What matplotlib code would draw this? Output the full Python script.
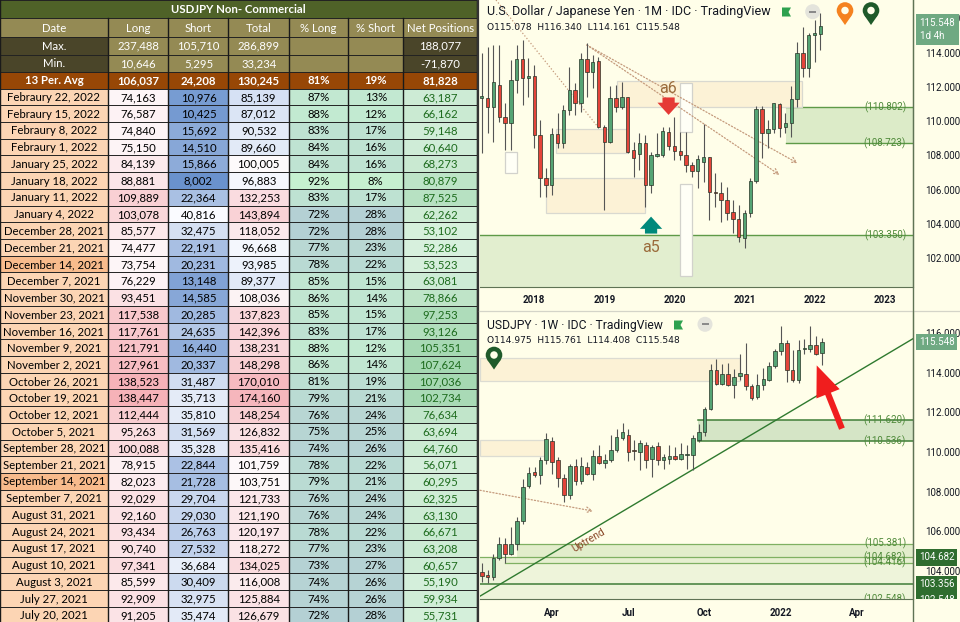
import matplotlib
matplotlib.use('Agg')
import matplotlib.pyplot as plt
from matplotlib.patches import Rectangle, Circle, Polygon
import matplotlib.transforms as mtransforms
import numpy as np
import pandas as pd

plt.rcParams['font.family'] = ['Roboto', 'DejaVu Sans']

# ------------------------------------------------------------------ TABLE DATA
table_title = "USDJPY Non- Commercial"
col_headers = ["Date", "Long", "Short", "Total", "% Long", "% Short", "Net Positions"]
max_label, min_label, avg_label = "Max.", "Min.", "13 Per. Avg"
max_vals = [237488, 105710, 286899, None, None, 188077]
min_vals = [10646, 5295, 33234, None, None, -71870]
avg_vals = [106037, 24208, 130245, 81, 19, 81828]

dates = ["Febraury 22, 2022", "Febraury 15, 2022", "Febraury 8, 2022", "Febraury 1, 2022",
         "January 25, 2022", "January 18, 2022", "January 11, 2022", "January 4, 2022",
         "December 28, 2021", "December 21, 2021", "December 14, 2021", "December 7, 2021",
         "November 30, 2021", "November 23, 2021", "November 16, 2021", "November 9, 2021",
         "November 2, 2021", "October 26, 2021", "October 19, 2021", "October 12, 2021",
         "October 5, 2021", "September 28, 2021", "September 21, 2021", "September 14, 2021",
         "September 7, 2021", "August 31, 2021", "August 24, 2021", "August 17, 2021",
         "August 10, 2021", "August 3, 2021", "July 27, 2021", "July 20, 2021"]
longs = [74163, 76587, 74840, 75150, 84139, 88881, 109889, 103078, 85577, 74477, 73754, 76229,
         93451, 117538, 117761, 121791, 127961, 138523, 138447, 112444, 95263, 100088, 78915, 82023,
         92029, 92160, 93434, 90740, 97341, 85599, 92909, 91205]
shorts = [10976, 10425, 15692, 14510, 15866, 8002, 22364, 40816, 32475, 22191, 20231, 13148,
          14585, 20285, 24635, 16440, 20337, 31487, 35713, 35810, 31569, 35328, 22844, 21728,
          29704, 29030, 26763, 27532, 36684, 30409, 32975, 35474]
totals = [85139, 87012, 90532, 89660, 100005, 96883, 132253, 143894, 118052, 96668, 93985, 89377,
          108036, 137823, 142396, 138231, 148298, 170010, 174160, 148254, 126832, 135416, 101759, 103751,
          121733, 121190, 120197, 118272, 134025, 116008, 125884, 126679]
pct_long = [87, 88, 83, 84, 84, 92, 83, 72, 72, 77, 78, 85, 86, 85, 83, 88, 86, 81, 79, 76, 75, 74,
            78, 79, 76, 76, 78, 77, 73, 74, 74, 72]
pct_short = [13, 12, 17, 16, 16, 8, 17, 28, 28, 23, 22, 15, 14, 15, 17, 12, 14, 19, 21, 24, 25, 26,
             22, 21, 24, 24, 22, 23, 27, 26, 26, 28]
net_pos = [63187, 66162, 59148, 60640, 68273, 80879, 87525, 62262, 53102, 52286, 53523, 63081,
           78866, 97253, 93126, 105351, 107624, 107036, 102734, 76634, 63694, 64760, 56071, 60295,
           62325, 63130, 66671, 63208, 60657, 55190, 59934, 55731]
highlight_dates = ["December 14, 2021", "September 14, 2021"]

# ------------------------------------------------------------------ MONTHLY CHART DATA (USD/JPY 1M)
m_start = "2017-04-01"
m_open = [111.35, 111.33, 110.84, 112.10, 110.26, 109.90, 112.40, 113.60, 112.50, 112.63,
          109.18, 106.65, 106.26, 109.24, 108.74, 110.65, 111.81, 111.03, 113.60, 112.88,
          113.53, 109.67, 108.80, 111.33, 110.80, 111.39, 108.31, 108.08, 108.74, 106.26,
          107.98, 108.02, 109.38, 108.54, 108.25, 108.02, 107.43, 107.10, 107.63, 107.88,
          105.87, 105.82, 105.40, 104.70, 104.26, 103.15, 104.61, 106.50, 110.68, 109.28,
          109.52, 111.00, 109.63, 109.90, 111.27, 113.96, 113.08, 115.03, 115.078]
m_high = [113.95, 114.35, 114.44, 114.44, 111.03, 113.57, 114.44, 114.73, 113.66, 113.27,
          110.06, 107.24, 109.57, 110.45, 110.94, 113.18, 112.20, 113.96, 114.54, 113.86,
          113.76, 109.77, 112.05, 112.10, 112.30, 111.42, 108.80, 109.28, 109.18, 108.21,
          109.28, 109.67, 109.67, 110.26, 109.38, 109.38, 107.63, 108.02, 109.83, 107.92,
          106.95, 106.46, 106.17, 105.39, 105.10, 104.80, 106.65, 110.88, 110.88, 110.06,
          111.07, 111.07, 110.45, 112.05, 114.64, 115.51, 115.16, 115.90, 116.340]
m_low = [108.11, 109.28, 108.80, 109.96, 108.31, 108.31, 111.62, 110.94, 111.42, 108.40,
         105.58, 105.58, 105.68, 108.41, 108.41, 110.35, 110.35, 110.55, 111.42, 111.91,
         109.57, 104.80, 108.70, 110.55, 110.70, 108.11, 106.75, 107.14, 105.00, 105.78,
         107.92, 107.90, 108.31, 107.72, 107.72, 107.04, 106.75, 106.07, 106.46, 104.22,
         105.00, 104.12, 104.22, 103.44, 102.95, 102.56, 104.41, 106.36, 107.82, 108.40,
         109.28, 109.09, 109.28, 109.09, 110.84, 112.59, 112.55, 113.47, 114.161]
m_close = [111.45, 110.84, 112.30, 110.26, 109.90, 112.40, 113.60, 112.50, 112.63, 109.18,
           106.65, 106.26, 109.24, 108.74, 110.65, 111.81, 111.03, 113.60, 112.88, 113.47,
           109.67, 108.80, 111.33, 110.80, 111.39, 108.21, 107.82, 108.74, 106.26, 108.02,
           108.06, 109.42, 108.54, 108.27, 108.02, 107.43, 107.10, 107.76, 107.88, 105.87,
           105.78, 105.39, 104.65, 104.26, 103.21, 104.61, 106.50, 110.68, 109.28, 109.52,
           111.03, 109.57, 109.90, 111.27, 113.96, 113.08, 115.03, 115.12, 115.548]
m_levels = [110.802, 108.723, 103.350]

# ------------------------------------------------------------------ WEEKLY CHART DATA (USDJPY 1W)
w_start = "2021-01-11"
w_open = [103.93, 103.79, 103.71, 104.63, 105.34, 104.88, 105.34, 106.51, 108.29, 108.99,
          108.83, 109.62, 110.54, 109.62, 108.70, 107.82, 109.28, 108.54, 109.25, 108.91,
          109.80, 109.47, 109.59, 110.12, 110.73, 110.84, 110.12, 110.00, 110.37, 109.67,
          110.29, 109.59, 109.63, 109.80, 109.67, 109.87, 109.87, 110.59, 111.01, 112.19,
          114.15, 113.45, 113.95, 113.36, 113.82, 113.95, 113.31, 112.78, 113.36, 113.61,
          114.32, 115.08, 115.51, 114.15, 113.65, 115.20, 115.21, 115.41, 114.975]
w_high = [104.38, 104.04, 104.88, 105.72, 105.64, 106.23, 106.70, 108.66, 109.25, 109.25,
          109.75, 110.96, 110.76, 109.75, 108.91, 109.42, 109.67, 109.75, 109.50, 110.09,
          110.34, 109.92, 110.84, 111.18, 111.45, 111.18, 110.59, 110.59, 110.51, 110.34,
          110.51, 109.92, 110.34, 110.26, 110.46, 110.34, 110.84, 111.43, 112.27, 114.46,
          114.71, 114.46, 114.49, 114.20, 114.96, 115.50, 113.41, 113.95, 114.25, 114.54,
          115.21, 116.34, 115.63, 115.13, 115.63, 115.71, 116.34, 115.83, 115.761]
w_low = [103.46, 103.37, 103.54, 104.55, 104.38, 104.80, 105.05, 106.39, 108.20, 108.75,
         108.41, 109.42, 108.91, 108.24, 107.49, 107.65, 108.33, 108.41, 108.85, 108.58,
         109.42, 109.17, 109.50, 110.00, 110.59, 109.55, 109.59, 109.08, 109.17, 108.75,
         109.33, 109.12, 109.42, 109.59, 109.59, 109.12, 109.08, 110.50, 110.79, 112.10,
         113.40, 113.36, 113.31, 112.74, 113.62, 113.11, 112.61, 112.70, 113.15, 113.58,
         114.25, 114.88, 113.53, 113.53, 113.48, 114.96, 115.04, 114.88, 114.408]
w_close = [103.76, 103.71, 104.67, 105.34, 104.88, 105.34, 106.51, 108.24, 108.96, 108.86,
           109.62, 110.64, 109.50, 108.70, 107.82, 109.28, 108.54, 109.30, 108.91, 109.79,
           109.45, 109.59, 110.12, 110.76, 111.01, 110.00, 110.04, 110.46, 109.59, 110.26,
           109.59, 109.75, 109.80, 109.67, 109.89, 109.88, 110.71, 111.01, 112.19, 114.15,
           113.45, 113.95, 113.36, 113.78, 113.99, 113.31, 112.74, 113.36, 113.70, 114.32,
           115.08, 115.50, 114.15, 113.65, 115.16, 115.22, 115.38, 114.96, 115.548]
w_zone = [110.536, 111.620]
w_levels_low = [105.381, 104.682, 104.416, 103.356, 102.548]

# ------------------------------------------------------------------ FIGURE
W, H = 960, 622
BG = '#fffee9'
fig = plt.figure(figsize=(W / 100, H / 100), dpi=100)
fig.patch.set_facecolor(BG)

# ================================================================== TABLE
tax = fig.add_axes([0, 0, 478 / W, 1])
tax.set_xlim(0, 478)
tax.set_ylim(H, 0)
tax.axis('off')

col_x = [0, 108, 168.5, 228.5, 289, 348, 403.5, 477]
hdr_y = [0, 18.3, 36.7, 54.5, 71.5, 88.5]
row_h = (623.5 - hdr_y[-1]) / len(dates)
TF = 'Lato'


def lerp(c0, c1, t):
    t = float(np.clip(t, 0, 1))
    return tuple((a + (b - a) * t) / 255 for a, b in zip(c0, c1))


def cell(ci, y0, y1, fc, text=None, color='black', weight='normal', size=8.2, span=1):
    x0, x1 = col_x[ci], col_x[ci + span]
    tax.add_patch(Rectangle((x0, y0), x1 - x0, y1 - y0, fc=fc, ec='none', zorder=1))
    if text is not None:
        tax.text((x0 + x1) / 2, (y0 + y1) / 2 + 0.6, text, ha='center', va='center',
                 color=color, fontweight=weight, fontsize=size, family=TF, zorder=3)


# title
cell(0, hdr_y[0], hdr_y[1], '#4f6228', table_title, 'white', 'bold', 8.2, span=7)
# header
for i, h in enumerate(col_headers):
    cell(i, hdr_y[1], hdr_y[2], '#948a54', h, 'white', 'normal', 8.2)
DARK = '#4a4529'
KHAKI = '#948a54'
for (lab, vals, r) in [(max_label, max_vals, 2), (min_label, min_vals, 3)]:
    cell(0, hdr_y[r], hdr_y[r + 1], DARK, lab, 'white')
    for j, v in enumerate(vals):
        fc = DARK if j == 5 else KHAKI
        cell(j + 1, hdr_y[r], hdr_y[r + 1], fc, None if v is None else f"{v:,}", 'white')
# average
cell(0, hdr_y[4], hdr_y[5], '#974706', avg_label, 'white', 'bold')
avg_txt = [f"{avg_vals[0]:,}", f"{avg_vals[1]:,}", f"{avg_vals[2]:,}",
           f"{avg_vals[3]}%", f"{avg_vals[4]}%", f"{avg_vals[5]:,}"]
for j, t in enumerate(avg_txt):
    cell(j + 1, hdr_y[4], hdr_y[5], '#974706', t, 'white', 'bold')

lmin, lmax = min(longs), max(longs)
smin, smax = min(shorts), max(shorts)
tmin, tmax, tmid = min(totals), max(totals), 100000
plmin, plmax = min(pct_long), max(pct_long)
psmin, psmax = min(pct_short), max(pct_short)
nmin, nmax = min(net_pos), max(net_pos)
GREENISH = (198, 240, 208)
TEALISH = (180, 208, 212)
for i, d in enumerate(dates):
    y0 = hdr_y[-1] + i * row_h
    y1 = y0 + row_h
    dfc = '#f8bb8c' if d in highlight_dates else '#fcd5b4'
    cell(0, y0, y1, dfc, d)
    cell(1, y0, y1, lerp((253, 245, 247), (246, 178, 184), (longs[i] - lmin) / (lmax - lmin)),
         f"{longs[i]:,}")
    cell(2, y0, y1, lerp((106, 146, 205), (250, 251, 255), (shorts[i] - smin) / (smax - smin)),
         f"{shorts[i]:,}")
    tv = totals[i]
    if tv < tmid:
        tfc = lerp((214, 225, 244), (253, 253, 255), (tv - tmin) / (tmid - tmin))
    else:
        tfc = lerp((253, 250, 251), (246, 182, 188), (tv - tmid) / (tmax - tmid))
    cell(3, y0, y1, tfc, f"{tv:,}")
    cell(4, y0, y1, lerp(TEALISH, GREENISH, (pct_long[i] - plmin) / (plmax - plmin)),
         f"{pct_long[i]}%")
    cell(5, y0, y1, lerp(GREENISH, TEALISH, (pct_short[i] - psmin) / (psmax - psmin)),
         f"{pct_short[i]}%")
    cell(6, y0, y1, lerp((215, 240, 221), (165, 216, 178), (net_pos[i] - nmin) / (nmax - nmin)),
         f"{net_pos[i]:,}", color='#1d6b1d')

# grid lines
all_y = list(hdr_y) + [hdr_y[-1] + k * row_h for k in range(1, len(dates) + 1)]
for y in all_y:
    tax.plot([0, col_x[-1]], [y, y], color='#222222', lw=0.7, zorder=4)
for k, x in enumerate(col_x):
    y_start = hdr_y[1] if 0 < k < len(col_x) - 1 else 0
    tax.plot([x, x], [y_start, 623.5], color='#1a1a1a', lw=1.0, zorder=4)

# ================================================================== CHART HELPERS
GREEN_C = '#55a474'
RED_C = '#e4443a'
EDGE_C = '#263326'
WICK_C = '#555555'
AX_C = '#5f7355'
LVL_C = '#5e9a48'
LBL_C = '#4f8a3a'


def draw_candles(ax, o, h, l, c, width):
    o, h, l, c = map(np.asarray, (o, h, l, c))
    x = np.arange(len(o))
    up = c >= o
    ax.vlines(x, l, h, color=WICK_C, lw=0.8, zorder=4)
    body = np.maximum(np.abs(c - o), 0.035)
    ax.bar(x, body, bottom=np.minimum(o, c), width=width,
           color=np.where(up, GREEN_C, RED_C), edgecolor=EDGE_C, linewidth=0.5, zorder=5)


def style_chart(ax, xlim, ylim, yticks):
    ax.set_facecolor(BG)
    ax.set_xlim(*xlim)
    ax.set_ylim(*ylim)
    ax.spines['top'].set_visible(False)
    ax.spines['left'].set_visible(False)
    ax.spines['right'].set_color(AX_C)
    ax.spines['bottom'].set_color(AX_C)
    ax.yaxis.tick_right()
    ax.set_yticks(yticks)
    ax.set_yticklabels([f"{v:.3f}" for v in yticks])
    ax.tick_params(axis='y', length=0, pad=9, labelsize=7, labelcolor='#131722')
    ax.tick_params(axis='x', length=0, pad=6, labelsize=7, labelcolor='#131722')


def level_label(ax, y, text):
    tr = mtransforms.blended_transform_factory(ax.transAxes, ax.transData)
    ax.text(0.985, y, text, transform=tr, ha='right', va='center', fontsize=7,
            color=LBL_C, zorder=7, clip_on=True)


def price_box(ax, y, text, fc, clip=False):
    tr = mtransforms.blended_transform_factory(ax.transAxes, ax.transData)
    t = ax.text(1.014, y, text, transform=tr, ha='left', va='center', fontsize=7,
                color='white', zorder=20,
                bbox=dict(boxstyle='square,pad=0.32', fc=fc, ec='none'))
    t.set_clip_on(False)
    if clip:
        cb = mtransforms.TransformedBbox(mtransforms.Bbox([[1.0, 0.0], [1.2, 1.0]]), ax.transAxes)
        t.set_clip_box(cb)
        t.set_clip_on(True)
    return t


# ================================================================== TOP CHART (monthly)
ax1 = fig.add_axes([480 / W, 1 - 287 / H, 432.7 / W, 287 / H])
m_xlim = (-0.29, 73.8)
m_ylim = (100.31, 117.07)
style_chart(ax1, m_xlim, m_ylim, np.arange(102, 117, 2))

m_dates_ext = pd.date_range(m_start, periods=80, freq='MS')
m_tick_pos = [i for i, d in enumerate(m_dates_ext) if d.month == 1 and i < m_xlim[1]]
ax1.set_xticks(m_tick_pos)
ax1.set_xticklabels([str(m_dates_ext[i].year) for i in m_tick_pos], fontweight='bold')

# zones
ax1.axhspan(m_ylim[0], m_levels[2], color='#e2eecf', zorder=1, lw=0)
ax1.axhline(m_levels[2], color=LVL_C, lw=1, zorder=2)
ax1.add_patch(Rectangle((52.1, m_levels[1]), m_xlim[1] - 52.1, m_levels[0] - m_levels[1],
                        fc='#dcebc8', ec='none', zorder=1))
for lv in m_levels[:2]:
    ax1.plot([52.1, m_xlim[1]], [lv, lv], color=LVL_C, lw=1, zorder=2)
for lv in m_levels:
    level_label(ax1, lv, f"({lv:.3f})")

# beige boxes (x in candle index, y in price)
beige_boxes = [(23.1, 54.9, 110.80, 112.34), (12.7, 24.8, 108.12, 109.54),
               (10.95, 27.9, 104.62, 106.66)]
for x0, x1, y0, y1 in beige_boxes:
    ax1.add_patch(Rectangle((x0, y0), x1 - x0, y1 - y0, fc='#fcf2d6', ec='#d9d9d0', lw=0.9, zorder=2))
white_boxes = [(4.0, 6.1, 106.96, 108.22), (34.0, 36.0, 109.38, 112.21), (34.0, 36.0, 100.97, 106.33)]
for x0, x1, y0, y1 in white_boxes:
    ax1.add_patch(Rectangle((x0, y0), x1 - x0, y1 - y0, fc='#fffff6', ec='#d2d2cc', lw=0.9, zorder=2))

# dotted trend lines
DOT_C = '#c49a7c'
ax1.plot([2.45, 19.9], [117.07, 109.66], ls=(0, (1, 1.6)), color=DOT_C, lw=0.9, zorder=3)
for end in [(54.1, 107.54), (51.0, 106.86)]:
    ax1.annotate('', xy=end, xytext=(18.0, 114.44),
                 arrowprops=dict(arrowstyle='->,head_length=0.4,head_width=0.2', ls=(0, (1, 1.6)),
                                 color=DOT_C, lw=0.9, shrinkA=0, shrinkB=0), zorder=3)

draw_candles(ax1, m_open, m_high, m_low, m_close, 0.58)

# a6 / a5 signals
ax1.annotate('', xy=(32.0, 110.36), xytext=(32.0, 111.38),
             arrowprops=dict(arrowstyle='simple,head_length=0.55,head_width=1.0,tail_width=0.55',
                             fc='#e53935', ec='none', shrinkA=0, shrinkB=0, mutation_scale=16), zorder=8)
ax1.text(31.9, 111.88, 'a6', ha='center', va='center', fontsize=11.5, color='#9a6a3a', zorder=8)
ax1.annotate('', xy=(29.0, 104.42), xytext=(29.0, 103.43),
             arrowprops=dict(arrowstyle='simple,head_length=0.55,head_width=1.0,tail_width=0.55',
                             fc='#00897b', ec='none', shrinkA=0, shrinkB=0, mutation_scale=16), zorder=8)
ax1.text(29.0, 102.64, 'a5', ha='center', va='center', fontsize=11.5, color='#9a6a3a', zorder=8)

t_top = ax1.annotate(f"{m_close[-1]:.3f}\n1d 4h", xy=(1.0, m_close[-1]), xycoords=('axes fraction', 'data'),
                     xytext=(5, 6), textcoords='offset points', ha='left', va='top', fontsize=7,
                     color='white', linespacing=1.45, zorder=20, annotation_clip=False,
                     bbox=dict(boxstyle='square,pad=0.4', fc='#6fa982', ec='none'))

# ================================================================== BOTTOM CHART (weekly)
ax2 = fig.add_axes([480 / W, 1 - 599.3 / H, 432.7 / W, (599.3 - 310.5) / H])
w_xlim = (-0.29, 73.46)
w_ylim = (102.57, 117.14)
style_chart(ax2, w_xlim, w_ylim, np.arange(104, 117, 2))

w_dates_ext = pd.date_range(w_start, periods=80, freq='W-MON')
w_tick_pos = [i for i, d in enumerate(w_dates_ext)
              if d.month in (1, 4, 7, 10) and d.day <= 7 and i < w_xlim[1]]
w_tick_lab = [str(w_dates_ext[i].year) if w_dates_ext[i].month == 1 else w_dates_ext[i].strftime('%b')
              for i in w_tick_pos]
ax2.set_xticks(w_tick_pos)
ax2.set_xticklabels(w_tick_lab, fontweight='bold')

# lower support stack
ax2.axhspan(w_ylim[0], w_levels_low[1], color='#eef4da', zorder=1, lw=0)
ax2.add_patch(Rectangle((6.0, w_levels_low[1]), w_xlim[1] - 6.0, w_levels_low[0] - w_levels_low[1],
                        fc='#e2edcb', ec='none', zorder=1))
ax2.add_patch(Rectangle((4.0, w_levels_low[2]), w_xlim[1] - 4.0, w_levels_low[1] - w_levels_low[2],
                        fc='#e6efd0', ec='none', zorder=1))
lvl_starts = [6.0, w_xlim[0], 4.0, w_xlim[0], w_xlim[0]]
for lv, xs in zip(w_levels_low, lvl_starts):
    lw = 1.1 if lv in (103.356,) else 0.9
    col = '#3f7d37' if lv in (103.356, 102.548) else '#7fb062'
    ax2.plot([xs, w_xlim[1]], [lv, lv], color=col, lw=lw, zorder=2)
for lv in [105.381, 104.682, 104.416, 102.548]:
    level_label(ax2, lv, f"({lv:.3f})")

# supply zone (green)
ax2.add_patch(Rectangle((36.9, w_zone[0]), w_xlim[1] - 36.9, w_zone[1] - w_zone[0],
                        fc='#d5e5c6', ec='none', zorder=1))
for lv in w_zone:
    ax2.plot([36.9, w_xlim[1]], [lv, lv], color='#3f7d37', lw=1.1, zorder=2)
    level_label(ax2, lv, f"({lv:.3f})")

# beige zones
for x0, x1, y0, y1 in [(w_xlim[0], 44.0, 113.56, 114.74), (w_xlim[0], 10.8, 109.79, 110.63)]:
    ax2.add_patch(Rectangle((x0, y0), x1 - x0, y1 - y0, fc='#fcf2d6', ec='#dcdcd2', lw=0.9, zorder=2))

# dotted arrow
ax2.annotate('', xy=(19.0, 107.02), xytext=(w_xlim[0], 108.07),
             arrowprops=dict(arrowstyle='->,head_length=0.4,head_width=0.2', ls=(0, (1, 1.6)),
                             color=DOT_C, lw=0.9, shrinkA=0, shrinkB=0), zorder=3)

# uptrend line
up_p0, up_p1 = (0, 102.78), (60, 113.34)
ax2.axline(up_p0, up_p1, color='#2f7a2f', lw=1.0, zorder=3)
slope = (up_p1[1] - up_p0[1]) / (up_p1[0] - up_p0[0])
ax2.text(18.2, 105.55, 'Uptrend', rotation=np.degrees(np.arctan(slope)), transform_rotates_text=True,
         rotation_mode='anchor', ha='center', va='center', fontsize=7.5, color='#8b4a2b', zorder=6)

draw_candles(ax2, w_open, w_high, w_low, w_close, 0.62)

# red arrow
ax2.annotate('', xy=(57.1, 114.37), xytext=(61.4, 111.18),
             arrowprops=dict(arrowstyle='simple,head_length=1.1,head_width=0.9,tail_width=0.22',
                             fc='#f01e1e', ec='none', shrinkA=0, shrinkB=0, mutation_scale=20), zorder=9)

price_box(ax2, w_close[-1], f"{w_close[-1]:.3f}", '#6fa982')
price_box(ax2, 104.682, "104.682", '#2f6d2f')
price_box(ax2, 103.356, "103.356", '#2f6d2f')
price_box(ax2, 102.548, "102.548", '#2f6d2f', clip=True)

# ================================================================== OVERLAY (headers, icons, dividers)
ov = fig.add_axes([0, 0, 1, 1], zorder=30)
ov.set_xlim(0, W)
ov.set_ylim(H, 0)
ov.axis('off')

ov.plot([478, 478], [0, H], color='#333333', lw=1.6)
ov.plot([479, W], [310.5, 310.5], color='#d4d4c8', lw=0.9)
ov.plot([912.7, 912.7], [0, H], color=AX_C, lw=1.0)

OHLC_FONT = ['DejaVu Sans']
ov.text(487, 12, "U.S. Dollar / Japanese Yen · 1M · IDC · TradingView", fontsize=9.0,
        color='#131722', va='center', ha='left')
ov.text(487, 27.5, f"O{m_open[-1]:.3f}  H{m_high[-1]:.3f}  L{m_low[-1]:.3f}  C{m_close[-1]:.3f}",
        fontsize=6.6, color='#131722', va='center', ha='left', family=OHLC_FONT)
ov.text(487, 325, "USDJPY · 1W · IDC · TradingView", fontsize=8.7,
        color='#131722', va='center', ha='left')
ov.text(487, 340.5, f"O{w_open[-1]:.3f}  H{w_high[-1]:.3f}  L{w_low[-1]:.3f}  C{w_close[-1]:.3f}",
        fontsize=6.6, color='#131722', va='center', ha='left', family=OHLC_FONT)


def flag(x, y):
    ov.add_patch(Polygon([(x, y), (x + 9, y), (x + 6.5, y + 4.5), (x + 9, y + 9), (x, y + 9)],
                         closed=True, fc='#2ea14f', ec='none'))


def minus_btn(x, y):
    ov.add_patch(Circle((x, y), 7.5, fc='#e4e4dc', ec='none'))
    ov.add_patch(Rectangle((x - 3.5, y - 1.1), 7, 2.2, fc='#8a8a8a', ec='none'))


def pin(x, y, r, color):
    ov.add_patch(Polygon([(x - r * 0.8, y + r * 0.6), (x + r * 0.8, y + r * 0.6), (x, y + r * 1.75)],
                         closed=True, fc=color, ec='none'))
    ov.add_patch(Circle((x, y), r, fc=color, ec='none'))
    ov.add_patch(Circle((x, y), r * 0.45, fc=BG, ec='none'))


flag(782, 7.5)
minus_btn(812.7, 11.7)
flag(674, 320.5)
minus_btn(705, 324.3)
pin(845, 10.5, 8.3, '#f5821f')
pin(871, 10.5, 8.3, '#1f5a2a')
pin(494, 355, 8.3, '#1f5a2a')

fig.savefig('out.png', dpi=100, facecolor=BG)
